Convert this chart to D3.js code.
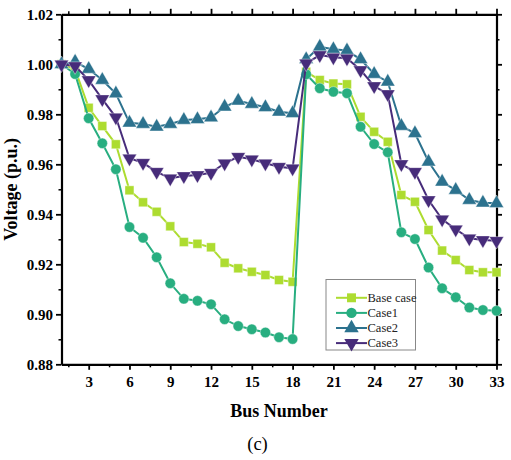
<!DOCTYPE html>
<html>
<head>
<meta charset="utf-8">
<script src="https://cdn.jsdelivr.net/npm/d3@7"></script>
<style>
  body { margin: 0; background: #fff; }
  text { font-family: "Liberation Serif", "Times New Roman", serif; }
</style>
</head>
<body>
<script>
const buses = d3.range(1, 34);

const baseCase = [1.000, 0.998, 0.9826, 0.9753, 0.968, 0.9496, 0.9448, 0.941, 0.9352, 0.9289, 0.9282, 0.9268,
  0.9206, 0.9184, 0.917, 0.9157, 0.9137, 0.913, 0.997, 0.9937, 0.9923, 0.992, 0.979, 0.973, 0.969,
  0.9477, 0.945, 0.9337, 0.9255, 0.9217, 0.9177, 0.9168, 0.9168];
const case1 = [1.000, 0.9961, 0.9784, 0.9684, 0.958, 0.9349, 0.9306, 0.9228, 0.9124, 0.9062, 0.9054, 0.904,
  0.898, 0.8953, 0.894, 0.8927, 0.8908, 0.8901, 0.996, 0.9904, 0.989, 0.9884, 0.975, 0.9681, 0.9648,
  0.9328, 0.9301, 0.9187, 0.9104, 0.9068, 0.9027, 0.9017, 0.9014];
const case2 = [1.000, 1.001, 0.9981, 0.9937, 0.9883, 0.9766, 0.9761, 0.975, 0.9761, 0.9777, 0.978, 0.9787,
  0.983, 0.9854, 0.9841, 0.9828, 0.981, 0.9804, 1.002, 1.007, 1.006, 1.0055, 1.002, 0.9961, 0.993,
  0.9753, 0.9724, 0.961, 0.953, 0.9497, 0.9457, 0.9446, 0.9444];
const case3 = [1.000, 0.9993, 0.9937, 0.9861, 0.9788, 0.9624, 0.9606, 0.957, 0.9544, 0.9553, 0.9557, 0.9566,
  0.9604, 0.963, 0.962, 0.9604, 0.959, 0.9584, 1.0004, 1.0037, 1.0028, 1.0024, 0.9977, 0.9913, 0.9881,
  0.9601, 0.957, 0.9457, 0.938, 0.934, 0.9304, 0.9297, 0.9294];

const seriesNames = ["Base case", "Case1", "Case2", "Case3"];
const seriesColors = ["#addc30", "#28ae80", "#2c728e", "#472c7a"];
const seriesSymbols = [d3.symbolSquare, d3.symbolCircle, d3.symbolTriangle, d3.symbolTriangle];

const xTicks = [3, 6, 9, 12, 15, 18, 21, 24, 27, 30, 33];
const yTicks = [0.88, 0.90, 0.92, 0.94, 0.96, 0.98, 1.00, 1.02];

const width = 511, height = 460;
const margin = { left: 61.5, right: 14.5, top: 14.3, bottom: 95.7 };

const svg = d3.select("body").append("svg")
  .attr("width", width)
  .attr("height", height);

const x = d3.scaleLinear().domain([1, 33]).range([margin.left, width - margin.right]);
const y = d3.scaleLinear().domain([0.88, 1.02]).range([height - margin.bottom, margin.top]);

const xMinor = d3.range(1.5, 33, 1.5).filter(v => !xTicks.includes(v));
const yMinor = d3.range(0.89, 1.02, 0.02);

function styleAxis(g) {
  g.select(".domain").attr("stroke-width", 2.2);
  g.selectAll(".tick line").attr("stroke-width", 1.8);
  g.selectAll("text")
    .attr("font-weight", "bold")
    .attr("font-size", 15)
    .attr("fill", "#000");
}

// minor ticks
const minorG = svg.append("g");
minorG.append("g").attr("transform", `translate(0,${y(0.88)})`)
  .call(d3.axisBottom(x).tickValues(xMinor).tickSize(3).tickFormat(""))
  .call(g => g.select(".domain").remove())
  .call(g => g.selectAll("line").attr("stroke-width", 1.5));
minorG.append("g").attr("transform", `translate(0,${y(1.02)})`)
  .call(d3.axisTop(x).tickValues(xMinor).tickSize(3).tickFormat(""))
  .call(g => g.select(".domain").remove())
  .call(g => g.selectAll("line").attr("stroke-width", 1.5));
minorG.append("g").attr("transform", `translate(${x(1)},0)`)
  .call(d3.axisLeft(y).tickValues(yMinor).tickSize(3).tickFormat(""))
  .call(g => g.select(".domain").remove())
  .call(g => g.selectAll("line").attr("stroke-width", 1.5));
minorG.append("g").attr("transform", `translate(${x(33)},0)`)
  .call(d3.axisRight(y).tickValues(yMinor).tickSize(3).tickFormat(""))
  .call(g => g.select(".domain").remove())
  .call(g => g.selectAll("line").attr("stroke-width", 1.5));

// major axes
svg.append("g").attr("transform", `translate(0,${y(0.88)})`)
  .call(d3.axisBottom(x).tickValues(xTicks).tickSize(5.5).tickSizeOuter(0).tickPadding(7))
  .call(styleAxis);
svg.append("g").attr("transform", `translate(0,${y(1.02)})`)
  .call(d3.axisTop(x).tickValues(xTicks).tickSize(5.5).tickSizeOuter(0).tickFormat(""))
  .call(styleAxis);
svg.append("g").attr("transform", `translate(${x(1)},0)`)
  .call(d3.axisLeft(y).tickValues(yTicks).tickSize(5.5).tickSizeOuter(0).tickPadding(3).tickFormat(d3.format(".2f")))
  .call(styleAxis);
svg.append("g").attr("transform", `translate(${x(33)},0)`)
  .call(d3.axisRight(y).tickValues(yTicks).tickSize(5.5).tickSizeOuter(0).tickFormat(""))
  .call(styleAxis);

// series
const allSeries = [baseCase, case1, case2, case3];
const line = d3.line().x((d, i) => x(buses[i])).y(d => y(d));
const symbolSizes = [80, 85, 90, 90];

allSeries.forEach((vals, k) => {
  const g = svg.append("g");
  g.append("path")
    .datum(vals)
    .attr("fill", "none")
    .attr("stroke", seriesColors[k])
    .attr("stroke-width", 2)
    .attr("d", line);
  g.selectAll("path.pt")
    .data(vals)
    .enter()
    .append("path")
    .attr("class", "pt")
    .attr("d", d3.symbol().type(seriesSymbols[k]).size(symbolSizes[k]))
    .attr("transform", (d, i) => `translate(${x(buses[i])},${y(d)})` + (k === 3 ? " rotate(180)" : ""))
    .attr("fill", seriesColors[k])
    .attr("stroke", "#fff")
    .attr("stroke-width", 0.4);
});

// legend
const legend = svg.append("g").attr("transform", "translate(326,279.5)");
legend.append("rect")
  .attr("width", 89.5).attr("height", 70.5)
  .attr("fill", "#fff")
  .attr("stroke", "#888")
  .attr("stroke-width", 1);
seriesNames.forEach((name, k) => {
  const ly = 18.3 + k * 15.1;
  legend.append("line")
    .attr("x1", 10).attr("x2", 41)
    .attr("y1", ly).attr("y2", ly)
    .attr("stroke", seriesColors[k]).attr("stroke-width", 2);
  legend.append("path")
    .attr("d", d3.symbol().type(seriesSymbols[k]).size(symbolSizes[k]))
    .attr("transform", `translate(25.5,${ly})` + (k === 3 ? " rotate(180)" : ""))
    .attr("fill", seriesColors[k]);
  legend.append("text")
    .attr("x", 41.5).attr("y", ly + 4.3)
    .attr("font-size", 12.5)
    .attr("fill", "#222")
    .text(name);
});

// titles
svg.append("text")
  .attr("x", (x(1) + x(33)) / 2).attr("y", 417)
  .attr("text-anchor", "middle")
  .attr("font-weight", "bold")
  .attr("font-size", 18)
  .text("Bus Number");

svg.append("text")
  .attr("transform", `translate(17,${(y(0.88) + y(1.02)) / 2}) rotate(-90)`)
  .attr("text-anchor", "middle")
  .attr("font-weight", "bold")
  .attr("font-size", 18)
  .text("Voltage (p.u.)");

svg.append("text")
  .attr("x", 257.5).attr("y", 449.5)
  .attr("text-anchor", "middle")
  .attr("font-size", 18.5)
  .text("(c)");
</script>
</body>
</html>
